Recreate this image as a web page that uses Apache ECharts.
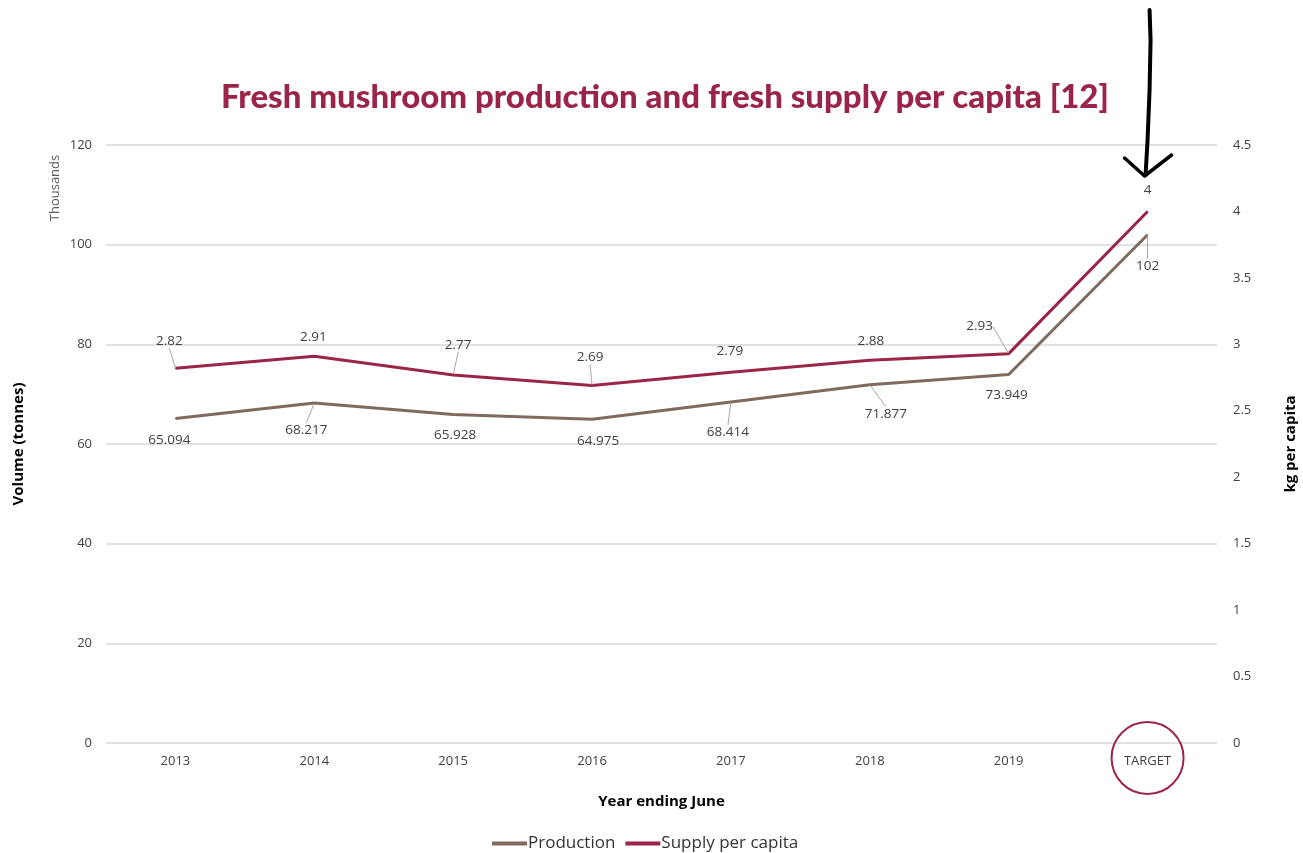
<!DOCTYPE html>
<html><head><meta charset="utf-8">
<script src="https://cdn.jsdelivr.net/npm/echarts@6/dist/echarts.min.js"></script>
<style>html,body{margin:0;padding:0;background:#fff}#c{width:1303px;height:853px}</style>
</head><body><div id="c"></div>
<script>
const categories = ['2013','2014','2015','2016','2017','2018','2019','TARGET'];
const production = [65.094, 68.217, 65.928, 64.975, 68.414, 71.877, 73.949, 102];
const supplyPerCapita = [2.82, 2.91, 2.77, 2.69, 2.79, 2.88, 2.93, 4];
const leftTicks = {min: 0, max: 120, interval: 20};
const rightTicks = {min: 0, max: 4.5, interval: 0.5};

// label displacement / leader lines (style only)
const prodLabelShift = [[-6,22],[-8,27],[2,21],[6,22],[-3,30],[16,29],[-2,21],[0,31]];
const supLabelShift = [[-6,-27],[-1,-19],[5,-30],[-2,-28],[-1,-21],[1,-19],[-29,-27],[0,-21]];
const prodLeader = [false, true, false, false, true, true, false, true];
const supLeader = [true, false, true, true, false, false, true, false];

const PROD = '#7e6b5d', SUP = '#9b2548', TXT = '#404040', GRID = '#d9d9d9';
const font = 'Open Sans';

const chart = echarts.init(document.getElementById('c'));
function shifted(shift){
  return function(p){ const s = shift[p.dataIndex]; return {dx: s[0], dy: s[1]}; };
}
function withLeaders(values, leaders){
  return values.map((v, i) => ({value: v, labelLine: {show: leaders[i]}}));
}
const option = {
  animation: false,
  title: {
    text: 'Fresh mushroom production and fresh supply per capita [12]',
    left: 216, top: 76,
    textStyle: {fontFamily: 'Lato', fontWeight: 900, fontSize: 33, color: SUP}
  },
  grid: {left: 106, right: 86, top: 145, bottom: 110, outerBoundsMode: 'none', containLabel: false},
  legend: {
    bottom: -4, left: 487, itemGap: 10, itemWidth: 35, itemHeight: 4,
    icon: 'rect',
    textStyle: {fontFamily: font, fontSize: 17, color: '#333', padding: [0,0,0,-4]},
    data: ['Production', 'Supply per capita']
  },
  xAxis: {
    type: 'category', data: categories, boundaryGap: true,
    name: 'Year ending June', nameLocation: 'middle', nameGap: 51,
    nameTextStyle: {fontFamily: font, fontWeight: 'bold', fontSize: 15, color: '#000'},
    axisLine: {show: false}, axisTick: {show: false},
    axisLabel: {fontFamily: font, fontSize: 13, color: TXT, margin: 12}
  },
  yAxis: [{
    type: 'value', min: leftTicks.min, max: leftTicks.max, interval: leftTicks.interval,
    name: 'Volume (tonnes)', nameLocation: 'middle', nameGap: 80, nameRotate: 90,
    nameTextStyle: {fontFamily: font, fontWeight: 'bold', fontSize: 15, color: '#000'},
    axisLine: {show: false}, axisTick: {show: false},
    axisLabel: {fontFamily: font, fontSize: 13, color: TXT, margin: 14},
    splitLine: {lineStyle: {color: GRID, width: 1.5}}
  }, {
    type: 'value', min: rightTicks.min, max: rightTicks.max, interval: rightTicks.interval,
    position: 'right',
    name: 'kg per capita', nameLocation: 'middle', nameGap: 66, nameRotate: 90,
    nameTextStyle: {fontFamily: font, fontWeight: 'bold', fontSize: 15, color: '#000'},
    axisLine: {show: false}, axisTick: {show: false},
    axisLabel: {fontFamily: font, fontSize: 13, color: TXT, margin: 16},
    splitLine: {show: false}
  }],
  series: [{
    name: 'Production', type: 'line', yAxisIndex: 0, data: withLeaders(production, prodLeader),
    showSymbol: true, symbol: 'circle', symbolSize: 1,
    lineStyle: {color: PROD, width: 3}, itemStyle: {color: PROD},
    label: {show: true, position: 'inside', fontFamily: font, fontSize: 13.5, color: TXT},
    labelLayout: shifted(prodLabelShift),
    labelLine: {show: true, lineStyle: {color: '#a6a6a6', width: 1}}
  }, {
    name: 'Supply per capita', type: 'line', yAxisIndex: 1, data: withLeaders(supplyPerCapita, supLeader),
    showSymbol: true, symbol: 'circle', symbolSize: 1,
    lineStyle: {color: SUP, width: 3}, itemStyle: {color: SUP},
    label: {show: true, position: 'inside', fontFamily: font, fontSize: 13.5, color: TXT},
    labelLayout: shifted(supLabelShift),
    labelLine: {show: true, lineStyle: {color: '#a6a6a6', width: 1}}
  }]
};
chart.setOption(option);

// annotations: "Thousands", circle around TARGET, hand-drawn arrow
const tx = chart.convertToPixel({xAxisIndex: 0}, 'TARGET');
const y0 = chart.convertToPixel({yAxisIndex: 0}, 0);
const yTop = chart.convertToPixel({yAxisIndex: 0}, 120);
chart.setOption({
  graphic: [{
    type: 'text', x: 55, y: 188, rotation: Math.PI/2,
    style: {text: 'Thousands', font: '13px "Open Sans"', fill: '#595959', align: 'center', verticalAlign: 'middle'}
  }, {
    type: 'circle', shape: {cx: tx, cy: y0 + 15, r: 36},
    style: {fill: 'none', stroke: SUP, lineWidth: 2}
  }, {
    type: 'polyline', shape: {points: [[tx+2, 10],[tx+3, 40],[tx+2, 90],[tx, 140],[tx-2, yTop+30]]},
    style: {fill: 'none', stroke: '#000', lineWidth: 4, lineCap: 'round', lineJoin: 'round'}
  }, {
    type: 'polyline', shape: {points: [[tx-23, yTop+13],[tx-3, yTop+31],[tx+24, yTop+10]]},
    style: {fill: 'none', stroke: '#000', lineWidth: 3.5, lineCap: 'round', lineJoin: 'round'}
  }]
});
</script></body></html>
